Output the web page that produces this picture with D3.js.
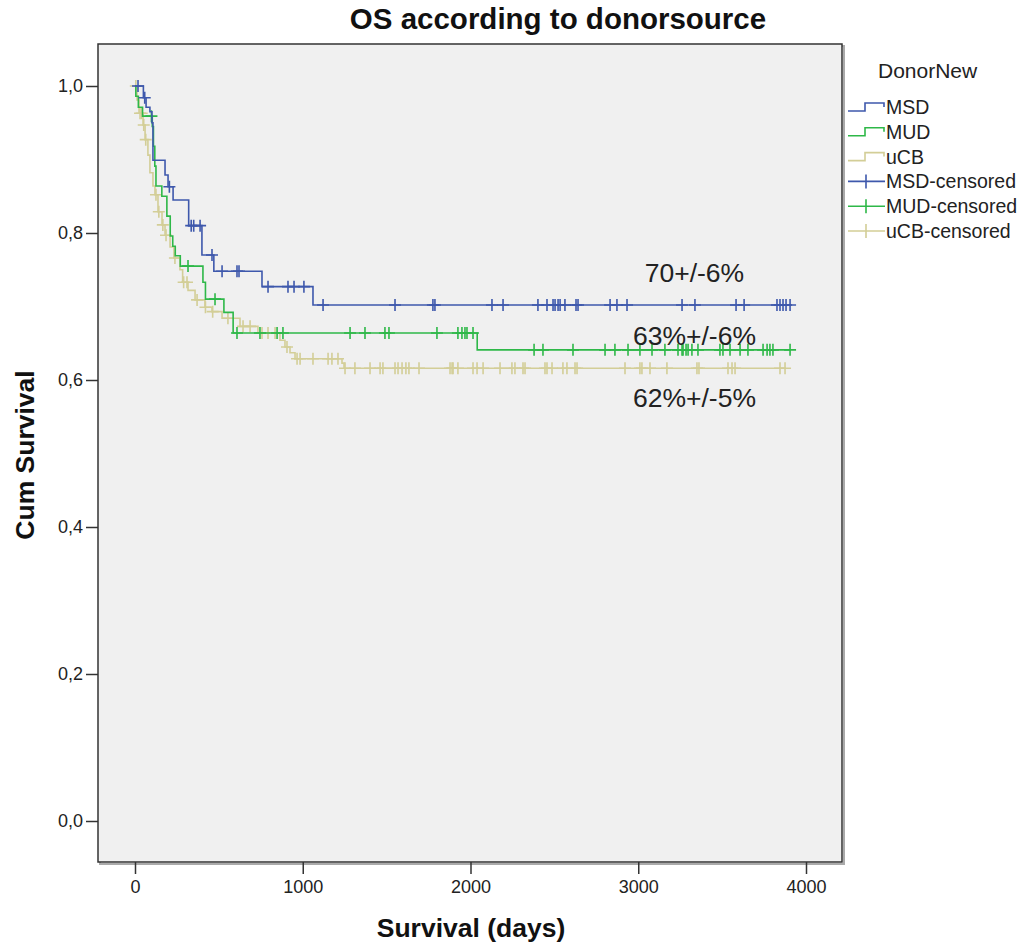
<!DOCTYPE html>
<html><head><meta charset="utf-8">
<script src="https://cdn.jsdelivr.net/npm/d3@7"></script>
<style>body{margin:0;background:#fff}svg{display:block}text{font-family:"Liberation Sans",Arial,sans-serif}</style>
</head><body>
<script>
// ---- data ----
const title = "OS according to donorsource";
const xTicks = [0, 1000, 2000, 3000, 4000];
const yTicks = [0, 0.2, 0.4, 0.6, 0.8, 1.0];
const groups = ["MSD", "MUD", "uCB"];
const colors = ["#3E58AC", "#2EB848", "#D3CE97"];

const msdTimes = [50, 66, 89, 101, 107, 179, 197, 227, 320, 399, 470, 757, 1061];
const msdSurv  = [0.984, 0.971, 0.965, 0.950, 0.899, 0.879, 0.863, 0.845, 0.810, 0.770, 0.748, 0.727, 0.702];
const msdCens  = [18, 58, 205, 335, 350, 388, 459, 519, 608, 620, 793, 912, 948, 1007, 1121, 1550, 1776, 1788, 2128, 2194, 2402, 2456, 2492, 2504, 2522, 2534, 2563, 2629, 2641, 2832, 2873, 2933, 3261, 3338, 3583, 3631, 3827, 3845, 3863, 3881, 3905];

const mudTimes = [5, 20, 45, 103, 110, 118, 125, 160, 190, 210, 225, 240, 270, 405, 420, 530, 585, 2040];
const mudSurv  = [0.986, 0.971, 0.959, 0.945, 0.918, 0.891, 0.864, 0.850, 0.823, 0.796, 0.782, 0.769, 0.755, 0.733, 0.710, 0.692, 0.664, 0.641];
const mudCens  = [98, 316, 477, 608, 745, 847, 882, 1282, 1371, 1490, 1514, 1800, 1925, 1949, 1967, 1979, 2015, 2379, 2432, 2611, 2802, 2861, 2939, 3010, 3082, 3159, 3237, 3261, 3267, 3285, 3297, 3320, 3356, 3487, 3505, 3547, 3607, 3654, 3744, 3768, 3785, 3803, 3905];

const ucbTimes = [12, 24, 48, 60, 77, 89, 107, 119, 137, 161, 179, 209, 232, 268, 284, 316, 358, 417, 459, 519, 626, 733, 864, 894, 924, 954, 1234, 1246];
const ucbSurv  = [0.981, 0.963, 0.947, 0.927, 0.906, 0.882, 0.864, 0.852, 0.829, 0.811, 0.797, 0.781, 0.766, 0.750, 0.733, 0.722, 0.709, 0.699, 0.693, 0.684, 0.673, 0.664, 0.654, 0.645, 0.637, 0.629, 0.623, 0.616];
const ucbCens  = [5, 30, 40, 52, 64, 125, 142, 166, 185, 238, 290, 310, 370, 420, 463, 554, 644, 686, 757, 793, 835, 906, 966, 984, 1061, 1151, 1174, 1210, 1252, 1311, 1401, 1461, 1478, 1550, 1568, 1592, 1615, 1633, 1693, 1878, 1890, 1896, 1925, 2015, 2039, 2075, 2176, 2247, 2265, 2313, 2325, 2444, 2456, 2486, 2551, 2575, 2623, 2635, 2921, 3010, 3022, 3070, 3171, 3350, 3362, 3535, 3559, 3577, 3845, 3875];

const annotations = [
  {text: "70+/-6%", day: 3335, surv: 0.733},
  {text: "63%+/-6%", day: 3335, surv: 0.648},
  {text: "62%+/-5%", day: 3335, surv: 0.563}
];

// ---- layout ----
const W = 1021, H = 946;
const svg = d3.select("body").append("svg").attr("width", W).attr("height", H);
const x = d3.scaleLinear().domain([0, 4000]).range([135, 806]);
const y = d3.scaleLinear().domain([0, 1]).range([821, 86]);
const panel = {x0: 98, x1: 842, y0: 44, y1: 862};

// shadow + panel
svg.append("rect").attr("x", panel.x0 + 2).attr("y", panel.y0 + 2)
  .attr("width", panel.x1 - panel.x0).attr("height", panel.y1 - panel.y0)
  .attr("fill", "none").attr("stroke", "#aaa").attr("stroke-width", 2);
svg.append("rect").attr("x", panel.x0).attr("y", panel.y0)
  .attr("width", panel.x1 - panel.x0).attr("height", panel.y1 - panel.y0)
  .attr("fill", "#F0F0F0").attr("stroke", "#333").attr("stroke-width", 1.5);

// axes
const fmt = d => d3.format(".1f")(d).replace(".", ",");
const yAxis = svg.append("g").attr("transform", `translate(${panel.x0},0)`)
  .call(d3.axisLeft(y).tickValues(yTicks).tickFormat(fmt).tickSize(12).tickPadding(3));
const xAxis = svg.append("g").attr("transform", `translate(0,${panel.y1})`)
  .call(d3.axisBottom(x).tickValues(xTicks).tickFormat(d3.format("d")).tickSize(12).tickPadding(6));
[yAxis, xAxis].forEach(a => {
  a.select(".domain").remove();
  a.selectAll("line").attr("stroke", "#333").attr("stroke-width", 1.5);
  a.selectAll("text").attr("font-size", 18).attr("fill", "#222")
    .style("font-family", '"Liberation Sans",Arial,sans-serif');
});

// titles
svg.append("text").attr("x", 558).attr("y", 29).attr("text-anchor", "middle")
  .attr("font-size", 29.5).attr("font-weight", "bold").attr("fill", "#111").text(title);
svg.append("text").attr("x", 471).attr("y", 937).attr("text-anchor", "middle")
  .attr("font-size", 26.5).attr("font-weight", "bold").attr("fill", "#111").text("Survival (days)");
svg.append("text").attr("transform", "translate(34,455) rotate(-90)").attr("text-anchor", "middle")
  .attr("font-size", 26.5).attr("font-weight", "bold").attr("fill", "#111").text("Cum Survival");

// curves
const series = [
  {times: msdTimes, surv: msdSurv, cens: msdCens},
  {times: mudTimes, surv: mudSurv, cens: mudCens},
  {times: ucbTimes, surv: ucbSurv, cens: ucbCens}
];
function survAt(s, t) {
  let v = 1;
  for (let i = 0; i < s.times.length; i++) if (s.times[i] <= t) v = s.surv[i];
  return v;
}
const line = d3.line().x(d => x(d[0])).y(d => y(d[1])).curve(d3.curveStepAfter);
const order = [2, 1, 0];
order.forEach(i => {
  const s = series[i];
  const end = d3.max(s.cens);
  const pts = [[0, 1]].concat(s.times.map((t, k) => [t, s.surv[k]]));
  pts.push([end, s.surv[s.surv.length - 1]]);
  const g = svg.append("g");
  g.append("path").attr("d", line(pts)).attr("fill", "none")
    .attr("stroke", colors[i]).attr("stroke-width", 1.6);
  const arm = 6;
  s.cens.forEach(t => {
    const cx = x(t), cy = y(survAt(s, t));
    g.append("path").attr("d", `M${cx},${cy - arm}V${cy + arm}M${cx - arm},${cy}H${cx + arm}`)
      .attr("stroke", colors[i]).attr("stroke-width", 1.6).attr("fill", "none");
  });
});

// annotations
annotations.forEach(a => {
  svg.append("text").attr("x", x(a.day)).attr("y", y(a.surv)).attr("text-anchor", "middle")
    .attr("font-size", 26.5).attr("fill", "#222").text(a.text);
});

// legend
svg.append("text").attr("x", 878).attr("y", 78).attr("font-size", 21).attr("fill", "#222").text("DonorNew");
const legendItems = groups.map((g, i) => ({label: g, color: colors[i], type: "step"}))
  .concat(groups.map((g, i) => ({label: g + "-censored", color: colors[i], type: "cens"})));
legendItems.forEach((it, k) => {
  const cy = 107 + k * 24.8;
  const lg = svg.append("g");
  if (it.type === "step") {
    lg.append("path").attr("d", `M848,${cy + 4}H865V${cy - 4}H884V${cy}`)
      .attr("fill", "none").attr("stroke", it.color).attr("stroke-width", 1.6);
  } else {
    lg.append("path").attr("d", `M848,${cy}H885M866,${cy - 7}V${cy + 7}`)
      .attr("fill", "none").attr("stroke", it.color).attr("stroke-width", 1.6);
  }
  lg.append("text").attr("x", 886).attr("y", cy + 7).attr("font-size", 19.5)
    .attr("fill", "#222").text(it.label);
});
</script>
</body></html>
